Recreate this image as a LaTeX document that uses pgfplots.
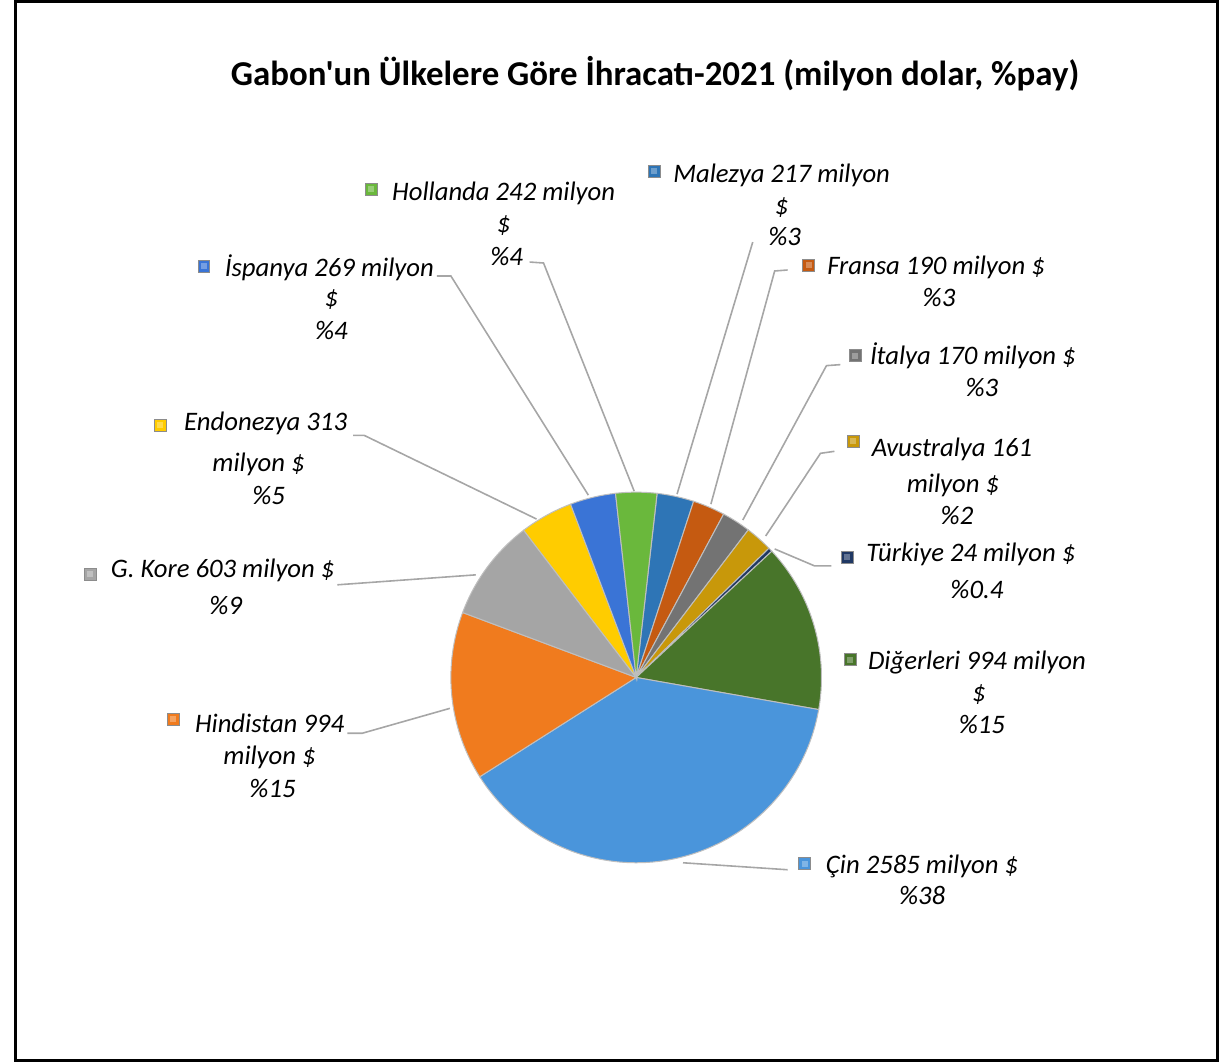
\documentclass[border=0pt]{standalone}
\usepackage{pgfplots}
\pgfplotsset{compat=1.18}
\usepackage{fontspec}
\setmainfont{Carlito}
\newfontfamily\titlefont{Carlito}
\definecolor{pc1}{HTML}{2E75B6}
\definecolor{pc2}{HTML}{C55A11}
\definecolor{pc3}{HTML}{737373}
\definecolor{pc4}{HTML}{C8980A}
\definecolor{pc5}{HTML}{203864}
\definecolor{pc6}{HTML}{48752A}
\definecolor{pc7}{HTML}{4A95DB}
\definecolor{pc8}{HTML}{F07B1E}
\definecolor{pc9}{HTML}{A5A5A5}
\definecolor{pc10}{HTML}{FFCC00}
\definecolor{pc11}{HTML}{3A74D6}
\definecolor{pc12}{HTML}{6AB83C}
\definecolor{leader}{HTML}{A6A6A6}
% values (milyon $), clockwise from Malezya
\def\pieval{217,190,170,161,24,994,2585,994,603,313,269,242}
\def\startang{83.5}
\begin{document}
\gdef\tot{0}
\foreach \v in \pieval {\pgfmathsetmacro\t{\tot+\v}\global\let\tot\t}
\global\let\cur\startang
\foreach \v [count=\i] in \pieval {%
  \pgfmathsetmacro\nx{\cur-\v/\tot*360}%
  \expandafter\xdef\csname ps\i\endcsname{\cur}%
  \expandafter\xdef\csname pe\i\endcsname{\nx}%
  \global\let\cur\nx}
\begin{tikzpicture}
\begin{axis}[
  scale only axis, width=609.5pt, height=533pt,
  xmin=0, xmax=1219, ymin=0, ymax=1066, y dir=reverse,
  hide axis, clip=false]
\pgfplotsinvokeforeach{1,...,12}{%
  \edef\temp{\noexpand\addplot[fill=pc#1, draw=black!25, line width=0.5pt,
     domain=\csname pe#1\endcsname:\csname ps#1\endcsname, samples=80]
     ({633+186*cos(x)},{680-186*sin(x)}) -- (633,680) -- cycle;}%
  \temp}
% frame
\draw[black, line width=1.5pt] (9.5,1.5) rectangle (1216.5,1064.5);
% title
\node[anchor=base, font=\fontsize{17.5}{20}\selectfont\titlefont\bfseries] at (652,86) {Gabon'un Ülkelere Göre İhracatı-2021 (milyon dolar, \%pay)};
% leaders
\begin{scope}[leader, line width=0.8pt]
\draw (526,263)--(540,264)--(631,493);
\draw (750,243)--(674,496);
\draw (785,271)--(772,272)--(708,506);
\draw (838,366)--(824,367)--(740,522);
\draw (832,453)--(818,455)--(763,538);
\draw (829,568)--(812,568)--(772,551);
\draw (680,866)--(785,873);
\draw (343,736)--(358,736)--(446,711);
\draw (333,587)--(472,577);
\draw (349,437)--(360,437)--(533,521);
\draw (433,277)--(447,277)--(585,497);
\end{scope}
% markers
\newcommand\mk[3]{\fill[#3, draw=black!45, line width=0.3pt] (#1-6,#2-6) rectangle (#1+6,#2+6);
  \fill[#3!70!white] (#1-3,#2-3) rectangle (#1+3,#2+3);}
\mk{367}{190}{pc12}
\mk{651}{172}{pc1}
\mk{806}{266}{pc2}
\mk{853}{357}{pc3}
\mk{851}{443}{pc4}
\mk{845}{559}{pc5}
\mk{848}{662}{pc6}
\mk{802}{867}{pc7}
\mk{168}{722}{pc8}
\mk{85}{576}{pc9}
\mk{155}{427}{pc10}
\mk{199}{267}{pc11}
% labels
\newcommand\lb[3]{\node[anchor=base, font=\fontsize{13.4}{15}\selectfont\itshape] at (#1,#2) {#3};}
\lb{500}{201}{Hollanda 242 milyon}\lb{500}{233}{\$}\lb{503}{266}{\%4}
\lb{779}{183}{Malezya 217 milyon}\lb{779}{215}{\$}\lb{782}{246}{\%3}
\lb{934}{276}{Fransa 190 milyon \$}\lb{937}{308}{\%3}
\lb{971}{366}{İtalya 170 milyon \$}\lb{980}{398}{\%3}
\lb{950}{458}{Avustralya 161}\lb{951}{494}{milyon \$}\lb{955}{526}{\%2}
\lb{969}{564}{Türkiye 24 milyon \$}\lb{975}{601}{\%0.4}
\lb{975}{672}{Diğerleri 994 milyon}\lb{977}{704}{\$}\lb{980}{736}{\%15}
\lb{920}{877}{Çin 2585 milyon \$}\lb{920}{908}{\%38}
\lb{265}{735}{Hindistan 994}\lb{265}{767}{milyon \$}\lb{268}{800}{\%15}
\lb{218}{580}{G. Kore 603 milyon \$}\lb{221}{617}{\%9}
\lb{261}{432}{Endonezya 313}\lb{254}{473}{milyon \$}\lb{264}{506}{\%5}
\lb{325}{278}{İspanya 269 milyon}\lb{327}{308}{\$}\lb{327}{341}{\%4}
\end{axis}
\end{tikzpicture}
\end{document}
